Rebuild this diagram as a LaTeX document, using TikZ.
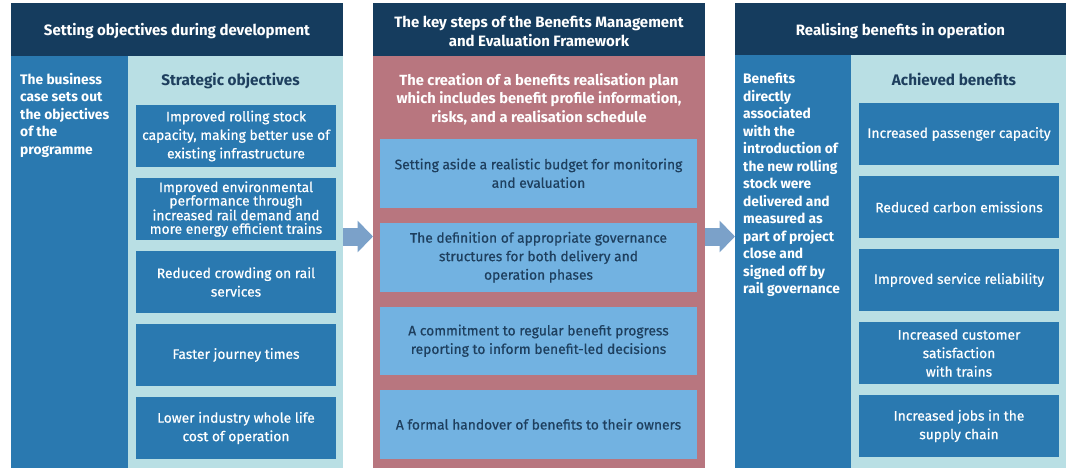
\documentclass[tikz,border=0pt]{standalone}
\usepackage{fontspec}
\setmainfont{Fira Sans}
\newfontfamily\boxfont{Fira Sans}[FakeBold=0.6]
\usetikzlibrary{arrows.meta}
\definecolor{navy}{HTML}{153C5E}
\definecolor{midblue}{HTML}{2A79B0}
\definecolor{paleblue}{HTML}{B9DFE4}
\definecolor{rose}{HTML}{B8767F}
\definecolor{skyblue}{HTML}{72B2E1}
\definecolor{darktext}{HTML}{1E3F5E}
\definecolor{arrowblue}{HTML}{7BA1C9}
\tikzset{
  panel/.style={anchor=north west, inner sep=0pt, outer sep=0pt},
  headbox/.style={panel, fill=navy, text=white, align=center, text depth=-1pt, font=\bfseries\fontsize{15}{19}\selectfont},
  colbox/.style={panel, fill=midblue},
  bgbox/.style={panel, fill=paleblue},
  coltext/.style={anchor=north west, inner sep=0pt, align=left, text=white, font=\bfseries\fontsize{13.8}{17.5}\selectfont},
  subtitle/.style={inner sep=0pt, text=darktext, font=\bfseries\fontsize{15.3}{18}\selectfont},
  objbox/.style={panel, fill=midblue, text=white, align=center, minimum width=200pt, minimum height=62pt, font=\boxfont\fontsize{13.8}{18.5}\selectfont},
  stepbox/.style={panel, fill=skyblue, text=darktext, align=center, minimum width=317pt, minimum height=68.5pt, font=\boxfont\fontsize{13.8}{18.5}\selectfont},
  flow/.style={arrowblue, line width=18pt, -{Triangle[length=15.5pt,width=31pt]}}
}
\begin{document}
\begin{tikzpicture}[x=1pt,y=-1pt]
\useasboundingbox (0,0) rectangle (1067,468);
% setting objectives
\node[headbox, minimum width=332pt, minimum height=53pt] (lhead) at (11,3) {Setting objectives during development};
\node[colbox, minimum width=117pt, minimum height=412pt] (lcol) at (11,56) {};
\node[bgbox, minimum width=215pt, minimum height=412pt] (lbg) at (128,56) {};
\node[coltext] (ltext) at (20,73) {The business\\case sets out\\the objectives\\of the\\programme};
\node[subtitle] (ltitle) at (230.5,80.5) {Strategic objectives};
\node[objbox] (obj1) at (136,105) {Improved rolling stock\\capacity, making better use of\\existing infrastructure};
\node[objbox, font=\boxfont\fontsize{13.8}{13.5}\selectfont] (obj2) at (136,178) {Improved environmental\\performance through\\increased rail demand and\\more energy efficient trains};
\node[objbox] (obj3) at (136,251) {Reduced crowding on rail\\services};
\node[objbox] (obj4) at (136,324) {Faster journey times};
\node[objbox] (obj5) at (136,397) {Lower industry whole life\\cost of operation};
% framework
\node[headbox, minimum width=332pt, minimum height=53pt] (mhead) at (373,3) {\rule{0pt}{16pt}The key steps of the Benefits Management\\and Evaluation Framework};
\node[panel, fill=rose, minimum width=332pt, minimum height=412pt] (mbg) at (373,56) {};
\node[subtitle, text=white, align=center, font=\bfseries\fontsize{14.7}{18.5}\selectfont] (mtitle) at (539,99) {The creation of a benefits realisation plan\\which includes benefit profile information,\\risks, and a realisation schedule};
\node[stepbox] (step1) at (380,139) {Setting aside a realistic budget for monitoring\\and evaluation};
\node[stepbox] (step2) at (380,223) {The definition of appropriate governance\\structures for both delivery and\\operation phases};
\node[stepbox] (step3) at (380,306.5) {A commitment to regular benefit progress\\reporting to inform benefit-led decisions};
\node[stepbox] (step4) at (380,390) {A formal handover of benefits to their owners};
% realising benefits
\node[headbox, minimum width=331pt, minimum height=52pt] (rhead) at (735,3) {Realising benefits in operation};
\node[colbox, minimum width=116pt, minimum height=413pt] (rcol) at (735,55) {};
\node[bgbox, minimum width=215pt, minimum height=413pt] (rbg) at (851,55) {};
\node[coltext] (rtext) at (743,73) {Benefits\\directly\\associated\\with the\\introduction of\\the new rolling\\stock were\\delivered and\\measured as\\part of project\\close and\\signed off by\\rail governance};
\node[subtitle] (rtitle) at (954,79) {Achieved benefits};
\node[objbox] (ben1) at (859,103) {Increased passenger capacity};
\node[objbox] (ben2) at (859,176) {Reduced carbon emissions};
\node[objbox] (ben3) at (859,249) {Improved service reliability};
\node[objbox] (ben4) at (859,322) {Increased customer\\satisfaction\\with trains};
\node[objbox] (ben5) at (859,395) {Increased jobs in the\\supply chain};
% arrows
\coordinate (arrowy) at (0,236.5);
\draw[flow] (lbg.east |- arrowy) -- (mbg.west |- arrowy);
\draw[flow] (mbg.east |- arrowy) -- (rcol.west |- arrowy);
\end{tikzpicture}
\end{document}
